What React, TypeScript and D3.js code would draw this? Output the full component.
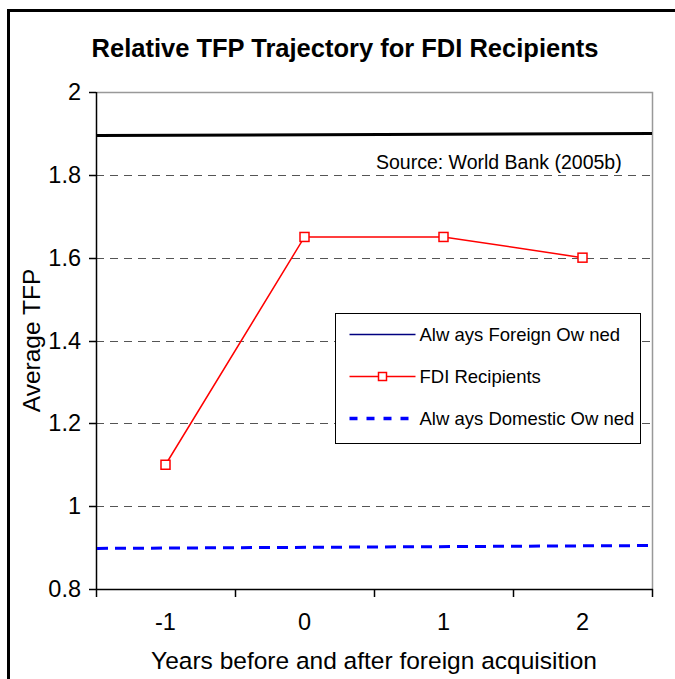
import React, { useEffect, useRef } from "react"
import * as d3 from "d3"

const years = ["-1", "0", "1", "2"]
const fdiRecipients = [1.1, 1.65, 1.65, 1.6]
// flat reference lines, values at the left and right edge of the plot
const foreignOwned = [1.895, 1.9]
const domesticOwned = [0.898, 0.905]
const yTicks = [0.8, 1, 1.2, 1.4, 1.6, 1.8, 2]
const legendItems = ["Alw ays Foreign Ow ned", "FDI Recipients", "Alw ays Domestic Ow ned"]

const W = 675
const H = 679
const margin = { left: 96, top: 92, right: 23, bottom: 90 }
const font = "Arial, 'Liberation Sans', sans-serif"

export default function App() {
    const ref = useRef<SVGSVGElement>(null)

    useEffect(() => {
        const svg = d3.select(ref.current)
        svg.selectAll("*").remove()

        const x0 = margin.left
        const x1 = W - margin.right
        const y0 = margin.top
        const y1 = H - margin.bottom

        const x = d3.scaleBand().domain(years).range([x0, x1])
        const y = d3.scaleLinear().domain([0.8, 2]).range([y1, y0])
        const cx = (d: string) => (x(d) as number) + x.bandwidth() / 2

        // outer frame
        svg.append("rect")
            .attr("x", 8.5).attr("y", 10.5)
            .attr("width", W + 20).attr("height", H + 20)
            .attr("fill", "white").attr("stroke", "black").attr("stroke-width", 3)

        svg.append("text")
            .attr("x", 345).attr("y", 57)
            .attr("text-anchor", "middle")
            .attr("font-family", font).attr("font-weight", "bold")
            .attr("font-size", 25.5)
            .text("Relative TFP Trajectory for FDI Recipients")

        // gridlines
        svg.append("g").selectAll("line")
            .data(yTicks.filter(t => t > 0.8 && t < 2))
            .enter().append("line")
            .attr("x1", x0).attr("x2", x1)
            .attr("y1", d => Math.round(y(d)) + 0.5).attr("y2", d => Math.round(y(d)) + 0.5)
            .attr("stroke", "#555").attr("stroke-dasharray", "8,6")

        // plot border top/right (gray)
        svg.append("path")
            .attr("d", `M${x0},${y0 + 0.5}H${x1 + 0.5}V${y1}`)
            .attr("fill", "none").attr("stroke", "#999").attr("stroke-width", 1.5)

        // axes
        const yAxis = svg.append("g")
        yAxis.append("line")
            .attr("x1", x0 + 0.5).attr("x2", x0 + 0.5)
            .attr("y1", y0).attr("y2", y1)
            .attr("stroke", "black").attr("stroke-width", 1.5)
        yAxis.selectAll("line.tick")
            .data(yTicks).enter().append("line")
            .attr("class", "tick")
            .attr("x1", x0 - 7).attr("x2", x0)
            .attr("y1", d => Math.round(y(d)) + 0.5).attr("y2", d => Math.round(y(d)) + 0.5)
            .attr("stroke", "black").attr("stroke-width", 1.5)
        yAxis.selectAll("text")
            .data(yTicks).enter().append("text")
            .attr("x", x0 - 15).attr("y", d => y(d) + 8)
            .attr("text-anchor", "end")
            .attr("font-family", font).attr("font-size", 23.5)
            .text(d => d3.format("~g")(d))

        const xAxis = svg.append("g")
        xAxis.append("line")
            .attr("x1", x0).attr("x2", x1 + 1)
            .attr("y1", y1 + 0.5).attr("y2", y1 + 0.5)
            .attr("stroke", "black").attr("stroke-width", 1.5)
        const bounds = years.map(d => x(d) as number).concat([x1])
        xAxis.selectAll("line.tick")
            .data(bounds).enter().append("line")
            .attr("class", "tick")
            .attr("x1", d => Math.round(d) + 0.5).attr("x2", d => Math.round(d) + 0.5)
            .attr("y1", y1).attr("y2", y1 + 8)
            .attr("stroke", "black").attr("stroke-width", 1.5)
        xAxis.selectAll("text")
            .data(years).enter().append("text")
            .attr("x", d => cx(d)).attr("y", y1 + 41)
            .attr("text-anchor", "middle")
            .attr("font-family", font).attr("font-size", 23.5)
            .text(d => d)

        svg.append("text")
            .attr("x", 374).attr("y", 669)
            .attr("text-anchor", "middle")
            .attr("font-family", font).attr("font-size", 24.5)
            .text("Years before and after foreign acquisition")

        svg.append("text")
            .attr("transform", `translate(40,${(y0 + y1) / 2}) rotate(-90)`)
            .attr("text-anchor", "middle")
            .attr("font-family", font).attr("font-size", 24.5)
            .text("Average TFP")

        svg.append("text")
            .attr("x", 376).attr("y", 169)
            .attr("font-family", font).attr("font-size", 19.5)
            .text("Source: World Bank (2005b)")

        // series
        const edge = d3.scaleLinear().domain([0, 1]).range([x0 + 1, x1])
        const flat = d3.line<number>().x((_, i) => edge(i)).y(d => y(d))

        svg.append("path")
            .attr("d", flat(foreignOwned))
            .attr("fill", "none").attr("stroke", "black").attr("stroke-width", 3)

        svg.append("path")
            .attr("d", flat(domesticOwned))
            .attr("fill", "none").attr("stroke", "#0000ff").attr("stroke-width", 3)
            .attr("stroke-dasharray", "11,7")

        const fdiLine = d3.line<number>().x((_, i) => cx(years[i])).y(d => y(d))
        svg.append("path")
            .attr("d", fdiLine(fdiRecipients))
            .attr("fill", "none").attr("stroke", "#ff0000").attr("stroke-width", 1.5)
        svg.append("g").selectAll("rect")
            .data(fdiRecipients).enter().append("rect")
            .attr("x", (_, i) => cx(years[i]) - 4.5).attr("y", d => y(d) - 4.5)
            .attr("width", 9).attr("height", 9)
            .attr("fill", "white").attr("stroke", "#ff0000").attr("stroke-width", 1.5)

        // legend
        const lg = svg.append("g").attr("transform", "translate(335.5,313.5)")
        lg.append("rect")
            .attr("width", 305).attr("height", 130)
            .attr("fill", "white").attr("stroke", "black").attr("stroke-width", 1)
        const rowY = [21, 63, 105]
        lg.selectAll("text")
            .data(legendItems).enter().append("text")
            .attr("x", 84).attr("y", (_, i) => rowY[i] + 6.5)
            .attr("font-family", font).attr("font-size", 18.5)
            .text(d => d)
        lg.append("line")
            .attr("x1", 14).attr("x2", 80).attr("y1", rowY[0]).attr("y2", rowY[0])
            .attr("stroke", "#000080").attr("stroke-width", 1.5)
        lg.append("line")
            .attr("x1", 14).attr("x2", 80).attr("y1", rowY[1]).attr("y2", rowY[1])
            .attr("stroke", "#ff0000").attr("stroke-width", 1.5)
        lg.append("rect")
            .attr("x", 43).attr("y", rowY[1] - 4).attr("width", 8).attr("height", 8)
            .attr("fill", "white").attr("stroke", "#ff0000").attr("stroke-width", 1.5)
        lg.append("line")
            .attr("x1", 14).attr("x2", 80).attr("y1", rowY[2]).attr("y2", rowY[2])
            .attr("stroke", "#0000ff").attr("stroke-width", 3.5)
            .attr("stroke-dasharray", "8,9")
    }, [])

    return (
        <svg ref={ref} width={W} height={H}
            style={{ position: "absolute", left: 0, top: 0 }} />
    )
}
